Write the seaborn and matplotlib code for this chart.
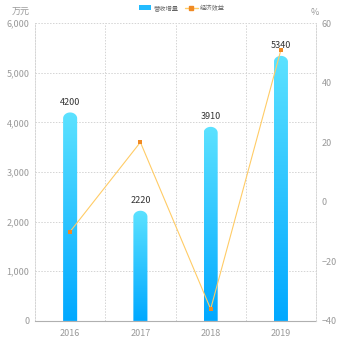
import numpy as np
import pandas as pd
import matplotlib
matplotlib.use("Agg")
import matplotlib.pyplot as plt
import seaborn as sns
from matplotlib.path import Path
from matplotlib.patches import PathPatch, FancyBboxPatch
from matplotlib.lines import Line2D
from matplotlib.colors import LinearSegmentedColormap

years = ["2016", "2017", "2018", "2019"]
revenue = [4200, 2220, 3910, 5340]
growth = [-10, 20, -36, 51]
legend_labels = ["营收增量", "经济效益"]
left_unit = "万元"
right_unit = "%"

sns.set_theme(style="white")
plt.rcParams['font.family'] = ['Noto Sans CJK SC', 'DejaVu Sans']

fig = plt.figure(figsize=(3.5, 3.5), dpi=100)
ax = fig.add_axes([0.1, 0.083, 0.803, 0.851])

df = pd.DataFrame({"year": years, "revenue": revenue, "growth": growth})
sns.barplot(data=df, x="year", y="revenue", ax=ax, width=0.2, color="#00aaff")

ax.set_ylim(0, 6000)
ax.set_xlim(-0.5, 3.5)
ax.set_yticks(range(0, 6001, 1000))
ax.set_yticklabels([f"{v:,}" for v in range(0, 6001, 1000)])
ax.set_xlabel("")
ax.set_ylabel("")

# gradient bars with rounded tops
cmap = LinearSegmentedColormap.from_list("g", ["#00a8ff", "#5ce2ff"])
grad = np.linspace(0, 1, 256).reshape(-1, 1)
fig.canvas.draw()
ax_w_px = ax.get_window_extent().width
ax_h_px = ax.get_window_extent().height
xunits_per_px = 4.0 / ax_w_px
yunits_per_px = 6000.0 / ax_h_px
for p in list(ax.patches):
    x0 = p.get_x(); w = p.get_width(); h = p.get_height()
    p.set_visible(False)
    rx = w / 2
    ry = (rx / xunits_per_px) * yunits_per_px * 0.85
    t = np.linspace(np.pi, 0, 40)
    cx = x0 + rx
    arc_x = cx + rx * np.cos(t)
    arc_y = (h - ry) + ry * np.sin(t)
    verts = [(x0, 0)] + list(zip(arc_x, arc_y)) + [(x0 + w, 0), (x0, 0)]
    codes = [Path.MOVETO] + [Path.LINETO] * (len(verts) - 2) + [Path.CLOSEPOLY]
    patch = PathPatch(Path(verts, codes), facecolor="none", edgecolor="none")
    ax.add_patch(patch)
    im = ax.imshow(grad, cmap=cmap, origin="lower", aspect="auto",
                   extent=[x0, x0 + w, 0, h], zorder=2)
    im.set_clip_path(patch)
    ax.text(cx, h + 110, f"{int(h)}", ha="center", va="bottom",
            fontsize=6.5, color="#333333", zorder=5)
ax.set_xlim(-0.5, 3.5)
ax.set_ylim(0, 6000)

# grid
for yv in range(1000, 6001, 1000):
    ax.axhline(yv, color="#d4d4d4", lw=0.7, ls=(0, (1.5, 1.5)), zorder=0)
for xv in [0.5, 1.5, 2.5, 3.5]:
    ax.axvline(xv, color="#d4d4d4", lw=0.7, ls=(0, (1.5, 1.5)), zorder=0)

for s in ["top", "right"]:
    ax.spines[s].set_visible(False)
ax.spines["left"].set_color("#d4d4d4")
ax.spines["left"].set_linestyle((0, (1.5, 1.5)))
ax.spines["left"].set_linewidth(0.7)
ax.spines["bottom"].set_color("#b0b0b0")
ax.spines["bottom"].set_linewidth(0.8)
ax.tick_params(axis="both", colors="#999999", labelsize=6.5, length=0, pad=4)
ax.tick_params(axis="x", pad=6)

ax2 = ax.twinx()
sns.pointplot(data=df, x="year", y="growth", ax=ax2, color="#ffcc66",
              markers="s", linewidth=0.8)
for ln in ax2.lines:
    ln.set_markerfacecolor("#f08a24")
    ln.set_markeredgecolor("#f08a24")
    ln.set_markersize(2.2)
    ln.set_markeredgewidth(0)
ax2.set_ylim(-40, 60)
ax2.set_xlim(-0.5, 3.5)
ax2.set_yticks(range(-40, 61, 20))
ax2.set_ylabel("")
ax2.set_xlabel("")
ax2.grid(False)
for s in ["top", "left", "bottom"]:
    ax2.spines[s].set_visible(False)
ax2.spines["right"].set_color("#d4d4d4")
ax2.spines["right"].set_linestyle((0, (1.5, 1.5)))
ax2.spines["right"].set_linewidth(0.7)
ax2.tick_params(axis="y", colors="#999999", labelsize=6.5, length=0, pad=4)

fig.text(0.06, 0.958, left_unit, fontsize=6.5, color="#999999", ha="center")
fig.text(0.9, 0.958, right_unit, fontsize=6.5, color="#999999", ha="center")

# legend
handles = [
    FancyBboxPatch((0, 0), 1, 1, boxstyle="round,pad=0.1", facecolor="#22bbff", edgecolor="none"),
    Line2D([0], [0], color="#ffcc66", lw=1, marker="s", markersize=3,
           markerfacecolor="#f08a24", markeredgecolor="#f08a24"),
]
fig.legend(handles, legend_labels, loc="upper center", bbox_to_anchor=(0.52, 1.005),
           ncol=2, frameon=False, fontsize=4.5, labelcolor="#666666",
           handlelength=2, handleheight=0.9, columnspacing=1.0, handletextpad=0.4)

fig.savefig("out.png", dpi=100)
